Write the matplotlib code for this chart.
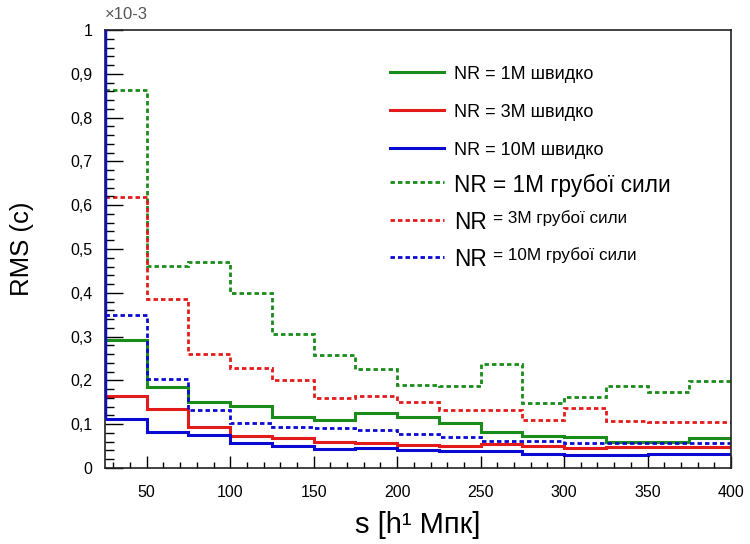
import matplotlib
matplotlib.use("Agg")
import matplotlib.pyplot as plt
from matplotlib.lines import Line2D
from matplotlib.ticker import MultipleLocator, FixedLocator, FixedFormatter
import numpy as np

plt.rcParams['font.family'] = ['Liberation Sans', 'DejaVu Sans']

# ---- data ----
bin_edges = [25, 50, 75, 100, 125, 150, 175, 200, 225, 250, 275, 300, 325, 350, 375, 400]
fast_1M = [0.292, 0.186, 0.150, 0.142, 0.117, 0.110, 0.126, 0.117, 0.102, 0.083, 0.072, 0.070, 0.060, 0.059, 0.068]
fast_3M = [0.164, 0.135, 0.094, 0.072, 0.069, 0.060, 0.057, 0.053, 0.051, 0.054, 0.051, 0.046, 0.049, 0.049, 0.049]
fast_10M = [0.113, 0.083, 0.075, 0.058, 0.050, 0.043, 0.046, 0.040, 0.038, 0.038, 0.033, 0.030, 0.030, 0.031, 0.031]
brute_1M = [0.863, 0.461, 0.470, 0.399, 0.307, 0.258, 0.225, 0.190, 0.187, 0.237, 0.148, 0.163, 0.187, 0.174, 0.199]
brute_3M = [0.618, 0.385, 0.261, 0.228, 0.201, 0.159, 0.165, 0.151, 0.132, 0.132, 0.110, 0.136, 0.108, 0.106, 0.106]
brute_10M = [0.349, 0.203, 0.132, 0.103, 0.094, 0.092, 0.087, 0.078, 0.070, 0.062, 0.062, 0.056, 0.056, 0.056, 0.057]

y_ticks = [0, 0.1, 0.2, 0.3, 0.4, 0.5, 0.6, 0.7, 0.8, 0.9, 1.0]
y_tick_labels = ['0', '0,1', '0,2', '0,3', '0,4', '0,5', '0,6', '0,7', '0,8', '0,9', '1']
x_ticks = [50, 100, 150, 200, 250, 300, 350, 400]
x_tick_labels = ['50', '100', '150', '200', '250', '300', '350', '400']

legend_main = ['NR = 1M швидко', 'NR = 3M швидко', 'NR = 10M швидко', 'NR = 1M грубої сили', 'NR', 'NR']
legend_small = ['', '', '', '', '= 3M грубої сили', '= 10M грубої сили']

GREEN = '#1a8c1a'
RED = '#e31b1b'
BLUE = '#0a0ad2'
dotted = (0, (1.6, 1.1))

series = [
    (fast_1M, GREEN, '-', 2.2),
    (fast_3M, RED, '-', 2.2),
    (fast_10M, BLUE, '-', 2.2),
    (brute_1M, GREEN, dotted, 2.0),
    (brute_3M, RED, dotted, 2.0),
    (brute_10M, BLUE, dotted, 2.0),
]

fig = plt.figure(figsize=(7.5, 5.44), dpi=100)
ax = fig.add_axes([105/750, 1-468/544, 626/750, 438/544])

for vals, col, ls, lw in series:
    ax.stairs(vals, bin_edges, color=col, linestyle=ls, linewidth=lw, baseline=None)

ax.set_xlim(25, 400)
ax.set_ylim(0, 1.0)

# left edge of the 10M fast histogram running up to the top of the frame
ax.vlines(bin_edges[0], fast_10M[0], y_ticks[-1], color=BLUE, linewidth=3.2, zorder=5)

ax.yaxis.set_major_locator(FixedLocator(y_ticks))
ax.yaxis.set_major_formatter(FixedFormatter(y_tick_labels))
ax.yaxis.set_minor_locator(MultipleLocator(0.02))
ax.xaxis.set_major_locator(FixedLocator(x_ticks))
ax.xaxis.set_major_formatter(FixedFormatter(x_tick_labels))
ax.xaxis.set_minor_locator(MultipleLocator(10))

ax.tick_params(axis='y', which='major', direction='in', length=13, width=1.0, labelsize=11.5, pad=9)
ax.tick_params(axis='y', which='minor', direction='in', length=6.5, width=1.0)
ax.tick_params(axis='x', which='major', direction='in', length=9, width=1.0, labelsize=11.5, pad=12)
ax.tick_params(axis='x', which='minor', direction='in', length=4.5, width=1.0)

for side in ['top', 'right', 'bottom', 'left']:
    ax.spines[side].set_linewidth(1.2)
    ax.spines[side].set_color('#222222')

ax.set_ylabel('RMS (c)', fontsize=18.5, labelpad=26)
ax.set_xlabel('s [h¹ Мпк]', fontsize=21, labelpad=8)
ax.text(0.0, 1.035, '×10-3', transform=ax.transAxes, fontsize=12, color='#555555',
        ha='left', va='center')

# ---- manual legend ----
leg_y = [0.905, 0.818, 0.73, 0.652, 0.566, 0.482]
leg_fs = [13, 13, 13, 16.3, 16.3, 16.3]
for i, (vals, col, ls, lw) in enumerate(series):
    y = leg_y[i]
    ax.add_line(Line2D([0.456, 0.541], [y, y], transform=ax.transAxes, color=col,
                       linestyle=ls, linewidth=lw))
    ax.text(0.557, y - 0.006, legend_main[i], transform=ax.transAxes, fontsize=leg_fs[i],
            ha='left', va='center')
    if legend_small[i]:
        ax.text(0.62, y + 0.004, legend_small[i], transform=ax.transAxes, fontsize=12.3,
                ha='left', va='center')

fig.savefig('out.png', dpi=100)
